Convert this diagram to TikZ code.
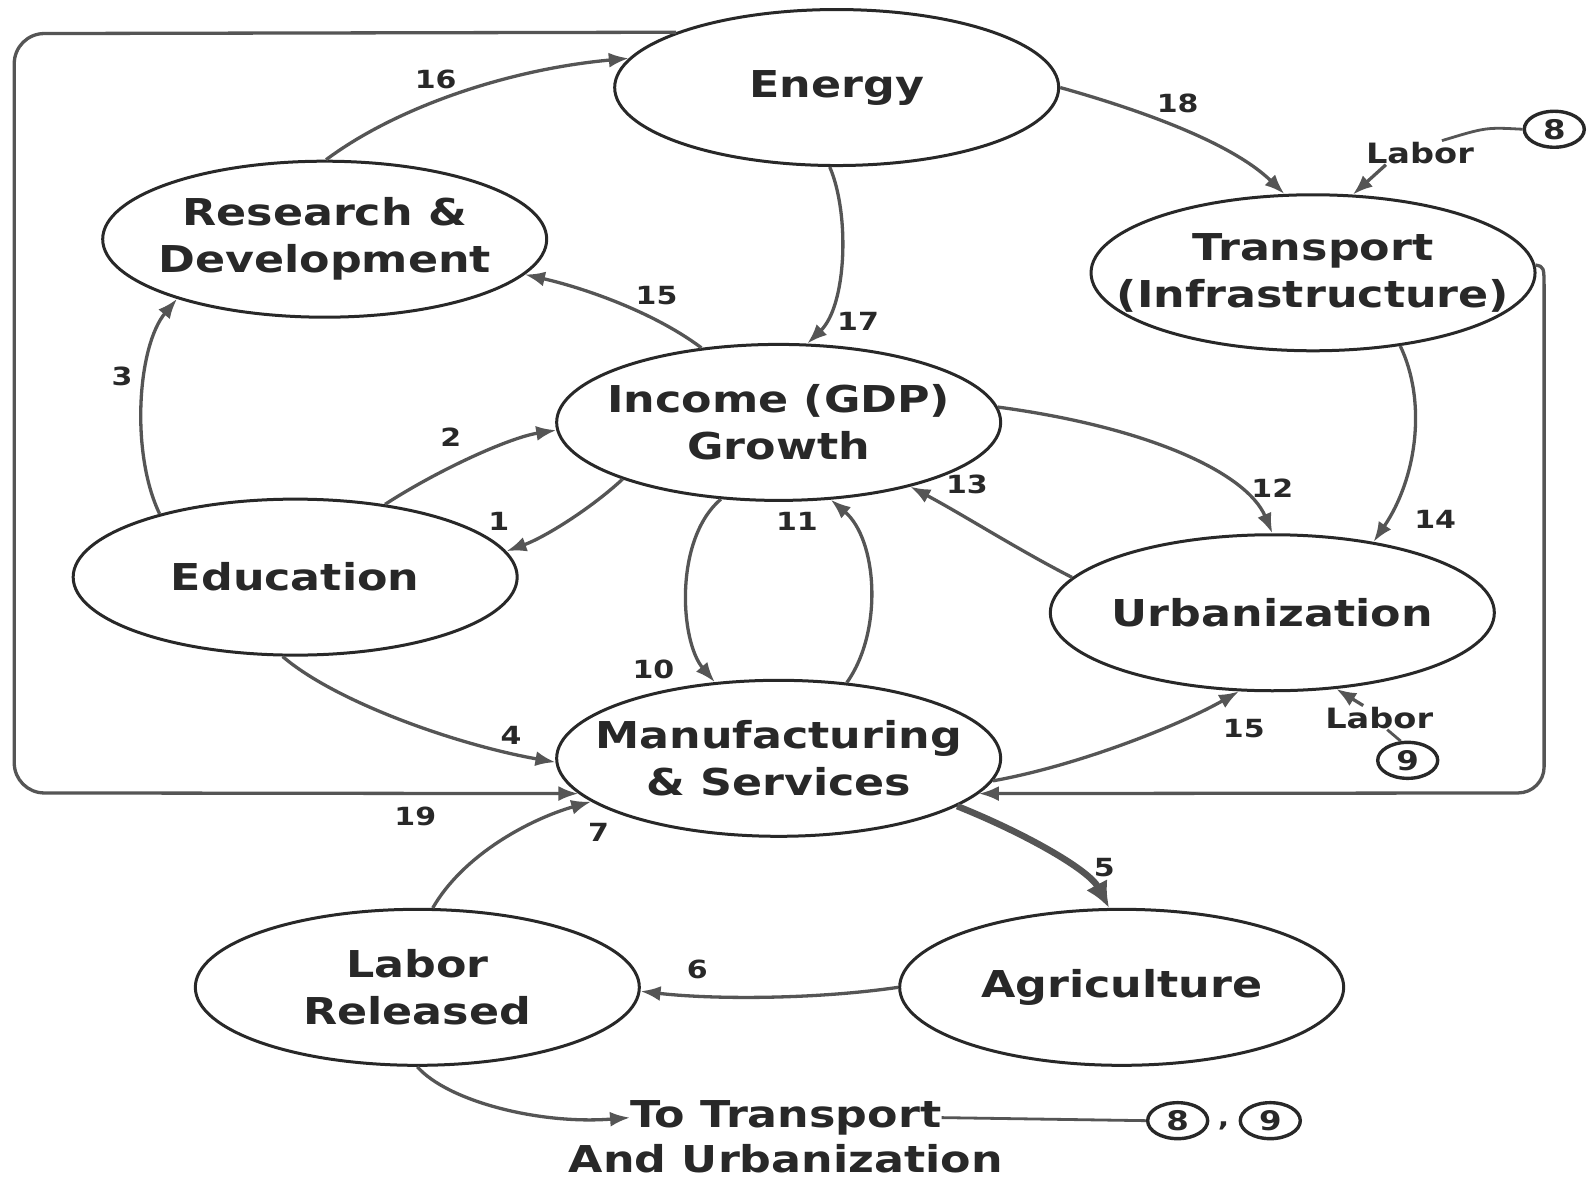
\documentclass[tikz,border=0pt]{standalone}
\usepackage{fontspec}
\newfontfamily\dfont{DejaVu Sans}[FakeStretch=1.2]
\usetikzlibrary{shapes.geometric,arrows.meta}
\definecolor{ink}{HTML}{282828}
\definecolor{lin}{HTML}{555555}
\begin{document}
\begin{tikzpicture}[x=1.01786pt,y=-1.01786pt,
 ell/.style={ellipse,draw=ink,line width=3pt,minimum width=444pt,minimum height=156pt,inner sep=0pt},
 big/.style={font=\dfont\bfseries\fontsize{37}{47}\selectfont,text=ink,align=center,inner sep=0pt},
 num/.style={font=\dfont\bfseries\fontsize{25}{28}\selectfont,text=ink,inner sep=1pt},
 lab/.style={font=\dfont\bfseries\fontsize{28}{32}\selectfont,text=ink,inner sep=1pt},
 circ/.style={ellipse,draw=ink,line width=3.4pt,minimum width=60pt,minimum height=36pt,inner sep=0pt,font=\dfont\bfseries\fontsize{27}{30}\selectfont,text=ink},
 arr/.style={draw=lin,line width=3.3pt,-{Latex[length=20pt,width=15pt]}},
 plain/.style={draw=lin,line width=2.8pt},
 thickarr/.style={draw=lin,line width=6.5pt,-{Latex[length=26pt,width=24pt]}}]
\useasboundingbox (0,0) rectangle (1568,1159);
\fill[white] (0,0) rectangle (1568,1159);

% main ellipses
\node[ell,label={[big]center:Energy}] (energy) at (822,86) {};
\node[ell,label={[big]center:{Research \&\\Development}}] (rd) at (319,235) {};
\node[ell,label={[big]center:{Transport\\(Infrastructure)}}] (tr) at (1290,268) {};
\node[ell,label={[big]center:{Income (GDP)\\Growth}}] (inc) at (765,415) {};
\node[ell,label={[big]center:Education}] (edu) at (290,567) {};
\node[ell,label={[big]center:Urbanization}] (urb) at (1250,602) {};
\node[ell,label={[big]center:{Manufacturing\\\& Services}}] (mfg) at (765,745) {};
\node[ell,label={[big]center:{Labor\\Released}}] (lab) at (410,970) {};
\node[ell,label={[big]center:Agriculture}] (agr) at (1102,970) {};

% bottom text
\node[big] (tt) at (772,1098) {To Transport};
\node[big] (au) at (772,1138) {And Urbanization};

% circled numbers
\node[circ] (c8) at (1527,127) {8};
\node[circ] (c9) at (1383,747) {9};
\node[circ] (c8b) at (1157,1101) {8};
\node[circ] (c9b) at (1248,1101) {9};
\node[num] (comma) at (1202,1106) {,};

% labor labels
\node[lab] (l8) at (1395,150) {Labor};
\node[lab] (l9) at (1355,705) {Labor};

% number labels
\node[num] (n16) at (428,78) {16};
\node[num] (n18) at (1157,102) {18};
\node[num] (n17) at (843,316) {17};
\node[num] (n15a) at (645,290) {15};
\node[num] (n3) at (120,370) {3};
\node[num] (n2) at (443,430) {2};
\node[num] (n1) at (490,512) {1};
\node[num] (n10) at (642,658) {10};
\node[num] (n11) at (783,512) {11};
\node[num] (n12) at (1250,480) {12};
\node[num] (n13) at (950,476) {13};
\node[num] (n14) at (1410,510) {14};
\node[num] (n4) at (502,722) {4};
\node[num] (n15b) at (1222,716) {15};
\node[num] (n5) at (1085,852) {5};
\node[num] (n6) at (685,952) {6};
\node[num] (n7) at (588,818) {7};
\node[num] (n19) at (408,802) {19};

% connectors
\draw[arr] (rd.89) .. controls (390,105) and (500,68) .. (energy.172);
\draw[arr] (energy.0) .. controls (1120,108) and (1210,140) .. (tr.110);
\draw[arr] (energy.265) .. controls (835,210) and (832,300) .. (inc.70);
\draw[arr] (inc.136) .. controls (640,305) and (570,282) .. (rd.350);
\draw[arr] (edu.155) .. controls (128,445) and (135,340) .. (rd.202);
\draw[arr] (edu.39) .. controls (430,462) and (500,430) .. (inc.182);
\draw[arr] (inc.200) .. controls (580,500) and (535,528) .. (edu.7);
\draw[arr] (inc.233) .. controls (662,530) and (668,630) .. (mfg.130);
\draw[arr] (mfg.48) .. controls (868,620) and (862,530) .. (inc.304);
\draw[arr] (inc.4) .. controls (1130,420) and (1225,465) .. (urb.90);
\draw[arr] (urb.170) .. controls (1000,540) and (945,505) .. (inc.334);
\draw[arr] (tr.320) .. controls (1402,395) and (1392,470) .. (urb.35);
\draw[arr] (edu.261) .. controls (330,690) and (450,732) .. (mfg.181);
\draw[arr] (mfg.354) .. controls (1060,752) and (1160,712) .. (urb.247);
\draw[thickarr] (mfg.345) .. controls (1010,820) and (1070,855) .. (agr.99);
\draw[arr] (agr.180) .. controls (800,982) and (700,982) .. (lab.359);
\draw[arr] (lab.79) .. controls (455,840) and (520,805) .. (mfg.193);
\draw[arr] (lab.270) .. controls (440,1082) and (530,1105) .. (tt.west);
\draw[plain] (tt.east) -- (c8b.west);

% labor inputs
\draw[arr] ([xshift=-34pt]l8.south) -- (tr.63);
\draw[plain] (c8.west) .. controls (1460,125) .. ([xshift=22pt]l8.north);
\draw[arr] ([xshift=-16pt]l9.north) -- (urb.310);
\draw[plain] ([xshift=8pt]l9.south) -- (c9.110);

% feedback loop (19)
\draw[arr,rounded corners=30] (energy.161) -- (14,33) -- (14,779) -- (mfg.190);
\draw[arr] (tr.2) .. controls (1517,262) .. (1517,285) [rounded corners=26] -- (1517,779) -- (mfg.350);
\end{tikzpicture}
\end{document}
